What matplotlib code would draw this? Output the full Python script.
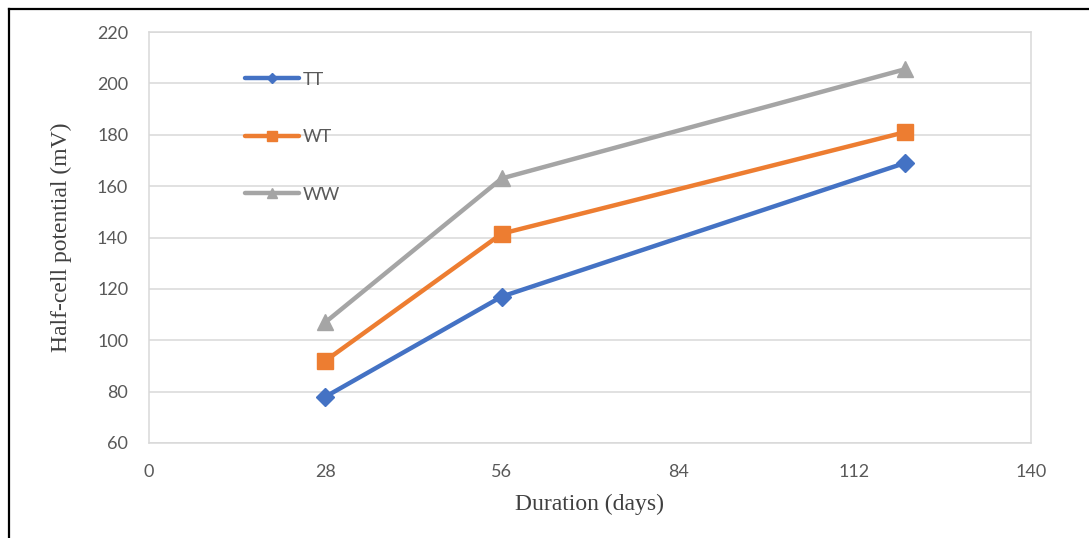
import matplotlib
matplotlib.use("Agg")
import matplotlib.pyplot as plt
from matplotlib.lines import Line2D

# Half-cell potential readings per mix
days = [28, 56, 120]
tt_mv = [78, 117, 169]
wt_mv = [92, 141.5, 181]
ww_mv = [107, 163, 205.5]

series_names = ["TT", "WT", "WW"]
x_ticks = [0, 28, 56, 84, 112, 140]
y_ticks = [60, 80, 100, 120, 140, 160, 180, 200, 220]

COLORS = ["#4472C4", "#ED7D31", "#A5A5A5"]
MARKERS = ["D", "s", "^"]
MSIZES = [9, 11, 12]
TICK_FONT = "Lato"
LABEL_FONT = "Liberation Serif"

fig = plt.figure(figsize=(10.89, 5.38), dpi=100)
ax = fig.add_axes([0.1368, 0.1766, 0.8099, 0.7639])

for vals, name, c, m, ms in zip([tt_mv, wt_mv, ww_mv], series_names, COLORS, MARKERS, MSIZES):
    ax.plot(days, vals, color=c, lw=3.2, marker=m, markersize=ms,
            solid_capstyle="round", label=name, zorder=3)

ax.set_xlim(0, 140)
ax.set_ylim(60, 220)
ax.set_xticks(x_ticks)
ax.set_yticks(y_ticks)
ax.grid(axis="y", color="#D9D9D9", lw=1.1)
ax.tick_params(length=0, labelsize=13, colors="#595959")
ax.tick_params(axis="x", pad=15)
ax.tick_params(axis="y", pad=15)
for lbl in ax.get_xticklabels() + ax.get_yticklabels():
    lbl.set_fontfamily(TICK_FONT)
for side in ["top", "right", "left", "bottom"]:
    ax.spines[side].set_color("#D9D9D9")
    ax.spines[side].set_linewidth(1.1)

ax.set_xlabel("Duration (days)", fontsize=17, family=LABEL_FONT, color="#404040", labelpad=10)
ax.set_ylabel("Half-cell potential (mV)", fontsize=17, family=LABEL_FONT, color="#404040", labelpad=18)

# legend with smaller markers, spaced out vertically
handles = [Line2D([], [], color=c, lw=3.2, marker=m, markersize=ms * 0.6, solid_capstyle="round")
           for c, m, ms in zip(COLORS, MARKERS, MSIZES)]
leg = ax.legend(handles, series_names, loc="upper left", bbox_to_anchor=(0.09, 0.943),
                frameon=False, handlelength=3.0, handletextpad=0.2, labelspacing=2.3,
                prop={"family": TICK_FONT, "size": 13})
for t in leg.get_texts():
    t.set_color("#595959")

# outer frame (left and top edges)
fig.add_artist(Line2D([0.0085, 0.0085], [0, 0.984], transform=fig.transFigure, color="black", lw=1.6))
fig.add_artist(Line2D([0.0085, 1.0], [0.984, 0.984], transform=fig.transFigure, color="black", lw=1.6))

fig.savefig("out.png", dpi=100)
